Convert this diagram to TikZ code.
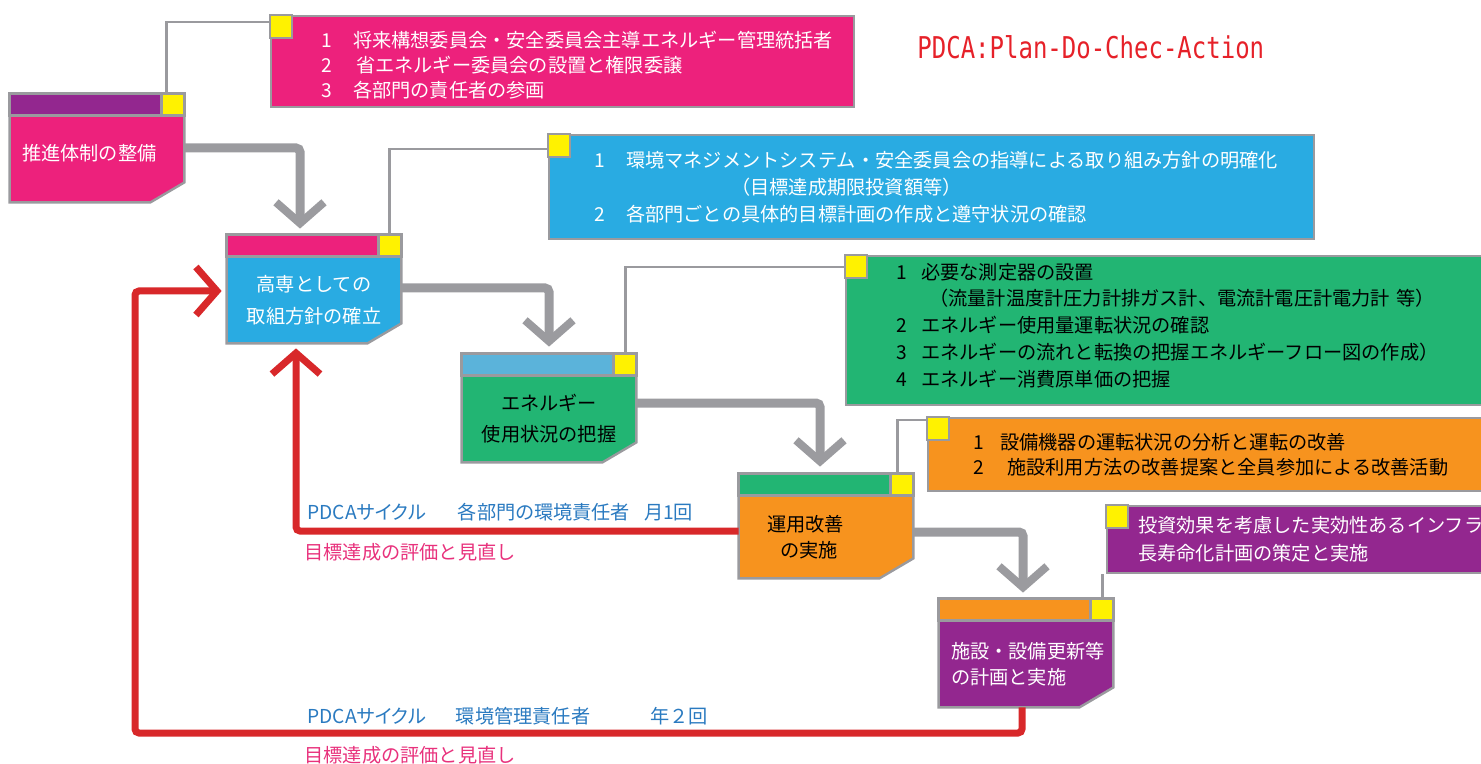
\documentclass[tikz,border=0pt]{standalone}
\usepackage{fontspec}
\usepackage{tikz}
\usetikzlibrary{arrows.meta,backgrounds}
\newfontfamily\cjk{Noto Sans CJK JP}
\newfontfamily\cjkprop{Noto Sans CJK JP}[RawFeature=+palt]
\newfontfamily\monofont{DejaVu Sans Mono}
\definecolor{boxpink}{HTML}{ED217C}
\definecolor{headpurple}{HTML}{93278F}
\definecolor{boxblue}{HTML}{29ABE2}
\definecolor{headblue}{HTML}{5BB3DA}
\definecolor{boxgreen}{HTML}{22B573}
\definecolor{boxorange}{HTML}{F7931E}
\definecolor{tagyellow}{HTML}{FFF200}
\definecolor{framegray}{HTML}{9A9A9E}
\definecolor{flowgray}{HTML}{9B9B9F}
\definecolor{loopred}{HTML}{D8282A}
\definecolor{labelblue}{HTML}{2A7AC0}
\definecolor{labelpink}{HTML}{E8317C}
\definecolor{titlered}{HTML}{E62129}
\newcommand{\boxfont}{\fontsize{9.6}{13}\selectfont\cjk}
\newcommand{\notefont}{\fontsize{9.6}{12.5}\selectfont\cjk}
\newcommand{\itemno}[2][16pt]{\makebox[#1][l]{#2}}
\tikzset{
  boxframe/.style={draw=framegray,line width=1.2pt},
  stepbox/.style={minimum width=87pt,minimum height=43pt,inner sep=0pt,align=center,font=\boxfont},
  note/.style={boxframe,anchor=north west,inner xsep=0pt,inner ysep=0pt,align=left,font=\notefont},
  tagline/.style={draw=framegray,line width=1.2pt},
  flow/.style={draw=flowgray,line width=4.5pt,rounded corners=2pt,-{Straight Barb[length=10.5pt,width=24pt,line width'=4pt]}},
  backflow/.style={draw=loopred,line width=3.5pt,rounded corners=2pt,-{Straight Barb[length=10.5pt,width=24pt,line width'=3.5pt]}},
  cyclelabel/.style={anchor=west,inner sep=0pt,text=labelblue,font=\fontsize{9.6}{12}\selectfont\cjkprop},
  reviewlabel/.style={anchor=west,inner sep=0pt,text=labelpink,font=\fontsize{9.6}{12}\selectfont\cjk},
}
\newcommand{\stepframe}[3]{%
  \begin{scope}[on background layer]
    \draw[boxframe,fill=#3] (#1.north west) -- (#1.north east) -- ([yshift=10pt]#1.south east)
      -- ([xshift=-17pt]#1.south east) -- (#1.south west) -- cycle;
    \draw[boxframe,fill=#2] (#1.north west) rectangle ([xshift=-11.5pt,yshift=11pt]#1.north east);
    \draw[boxframe,fill=tagyellow] ([xshift=-11.5pt]#1.north east) rectangle ([yshift=11pt]#1.north east);
  \end{scope}}
\newcommand{\notetag}[1]{\draw[boxframe,fill=tagyellow] (#1.north west) rectangle ++(11pt,-11.5pt);}

\begin{document}
\begin{tikzpicture}[x=.5pt,y=-.5pt]
\useasboundingbox (0,0) rectangle (1481,764);
\clip (0,0) rectangle (1481,764);

\node[stepbox,text=white,align=left,text width=75pt] (system) at (97,159) {推進体制の整備\rule[-6.2pt]{0pt}{0pt}};
\node[stepbox,text=white,font=\fontsize{9.6}{16}\selectfont\cjk] (policy) at (314,300) {高専としての\\取組方針の確立};
\node[stepbox,font=\fontsize{9.6}{15.5}\selectfont\cjk] (usage) at (549,419) {エネルギー\\使用状況の把握};
\node[stepbox,align=left,text width=59pt,minimum height=41pt] (operation) at (826,537) {運用改善\\\hspace*{6.5pt}の実施};
\node[stepbox,text=white,align=left,text width=75pt] (renewal) at (1026,664) {施設・設備更新等\\の計画と実施};
\stepframe{system}{headpurple}{boxpink}
\stepframe{policy}{boxpink}{boxblue}
\stepframe{usage}{headblue}{boxgreen}
\stepframe{operation}{boxgreen}{boxorange}
\stepframe{renewal}{boxorange}{headpurple}

\node[note,fill=boxpink,text=white,minimum width=291.5pt,text width=291.5pt,minimum height=45.5pt] (systemnote) at (270,15)
  {\hspace*{25pt}\itemno{1}\rule{0pt}{12pt}将来構想委員会・安全委員会主導エネルギー管理統括者\\
   \hspace*{25pt}\itemno{2}\hspace*{1.5pt}省エネルギー委員会の設置と権限委譲\\
   \hspace*{25pt}\itemno{3}各部門の責任者の参画};
\node[note,fill=boxblue,text=white,minimum width=382.5pt,text width=382.5pt,minimum height=52pt,font=\fontsize{9.6}{13.5}\selectfont\cjk] (policynote) at (548,134)
  {\hspace*{22.5pt}\itemno{1}環境マネジメントシステム・安全委員会の指導による取り組み方針の明確化\\
   \hspace*{91pt}（目標達成期限投資額等）\\
   \hspace*{22.5pt}\itemno{2}各部門ごとの具体的目標計画の作成と遵守状況の確認};
\node[note,fill=boxgreen,minimum width=322pt,text width=322pt,minimum height=74.5pt,font=\fontsize{9.6}{13.4}\selectfont\cjk] (usagenote) at (845,255)
  {\hspace*{25pt}\itemno[12.5pt]{1}必要な測定器の設置\\
   \hspace*{41.5pt}（流量計温度計圧力計排ガス計、電流計電圧計電力計 等）\\
   \hspace*{25pt}\itemno[12.5pt]{2}エネルギー使用量運転状況の確認\\
   \hspace*{25pt}\itemno[12.5pt]{3}エネルギーの流れと転換の把握エネルギーフロー図の作成）\\
   \hspace*{25pt}\itemno[12.5pt]{4}エネルギー消費原単価の把握\rule[-6pt]{0pt}{0pt}};
\node[note,fill=boxorange,minimum width=281.5pt,text width=281.5pt,minimum height=36.5pt] (operationnote) at (927,417)
  {\hspace*{22.5pt}\itemno[13.5pt]{1}設備機器の運転状況の分析と運転の改善\\
   \hspace*{22.5pt}\itemno[13.5pt]{2}\hspace*{3.5pt}施設利用方法の改善提案と全員参加による改善活動};
\node[note,fill=headpurple,text=white,minimum width=192pt,text width=192pt,minimum height=33.5pt,font=\fontsize{9.6}{14}\selectfont\cjk] (renewalnote) at (1106,505)
  {\hspace*{15.5pt}投資効果を考慮した実効性あるインフラ\\
   \hspace*{15.5pt}長寿命化計画の策定と実施};
\notetag{systemnote}
\notetag{policynote}
\notetag{usagenote}
\notetag{operationnote}
\notetag{renewalnote}

\draw[tagline] ([xshift=-9pt,yshift=11pt]system.north east) |- ([yshift=-3.5pt]systemnote.north west);
\draw[tagline] ([xshift=-6pt,yshift=11pt]policy.north east) |- ([yshift=-7.5pt]policynote.north west);
\draw[tagline] ([xshift=-5.5pt,yshift=11pt]usage.north east) |- ([yshift=-6pt]usagenote.north west);
\draw[tagline] ([xshift=-8pt,yshift=11pt]operation.north east) |- ([yshift=-1.5pt]operationnote.north west);
\draw[tagline] ([xshift=-5.5pt,yshift=11pt]renewal.north east) -- ([xshift=-5.5pt]renewal.north east |- renewalnote.south);

\draw[flow] ([yshift=5.5pt]system.east) -| ([xshift=-7pt,yshift=14pt]policy.north);
\draw[flow] ([yshift=6pt]policy.east) -| ([yshift=14.5pt]usage.north);
\draw[flow] ([yshift=8pt]usage.east) -| ([xshift=-3pt,yshift=14.5pt]operation.north);
\draw[flow] ([yshift=2.5pt]operation.east) -| ([xshift=-1.5pt,yshift=14pt]renewal.north);

\coordinate (loopcorner) at (135,733);
\draw[backflow] ([yshift=3pt]operation.west) -| ([xshift=-9pt,yshift=-2.5pt]policy.south);
\draw[backflow] ([xshift=-2pt]renewal.south) |- (loopcorner) |- ([xshift=-2.5pt,yshift=4.5pt]policy.west);

\node[cyclelabel] (monthly) at (307,512) {PDCAサイクル\hspace{16pt}各部門の環境責任者\hspace{7pt}月1回};
\node[reviewlabel] (monthlyreview) at (304,552) {目標達成の評価と見直し};
\node[cyclelabel] (yearly) at (307,716) {PDCAサイクル\hspace{15pt}環境管理責任者\hspace{30pt}年\hspace{1pt}２\hspace{1pt}回};
\node[reviewlabel] (yearlyreview) at (304,755) {目標達成の評価と見直し};
\node[anchor=west,inner sep=0pt,text=titlered,font=\fontsize{12}{14}\selectfont\monofont] (pdca) at (917,47) {\scalebox{1}[1.25]{PDCA:Plan-Do-Chec-Action}};
\end{tikzpicture}
\end{document}
